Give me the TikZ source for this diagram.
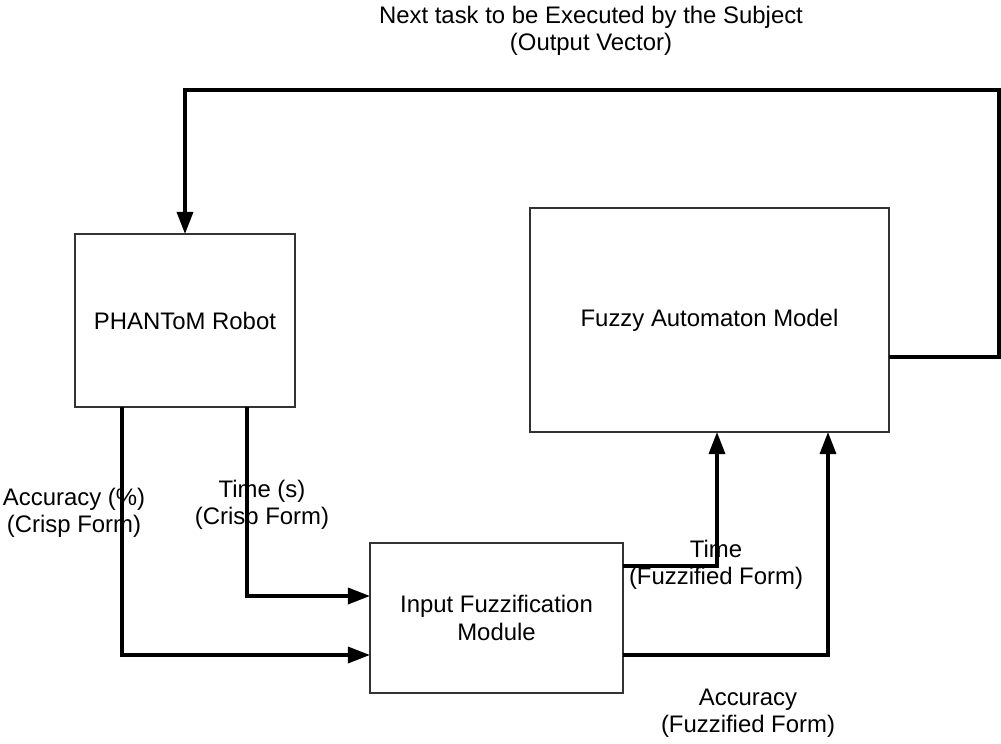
\documentclass[tikz,border=0pt]{standalone}
\usepackage{fontspec}
\setmainfont{Liberation Sans}
\usetikzlibrary{arrows.meta}

\tikzset{
	block/.style={draw=black!80, line width=1.4pt, inner sep=0pt, outer sep=0pt, align=center},
	flow/.style={line width=2.4pt, -{Triangle[length=0.55cm,width=0.4cm]}},
	lbl/.style={align=center, inner sep=0pt},
}

\begin{document}
\begin{tikzpicture}[x=0.025cm, y=-0.025cm, font=\fontsize{17}{19.5}\selectfont]
\useasboundingbox (0,0) rectangle (1001,744);

\node[block, minimum width=5.5cm, minimum height=4.325cm] (robot) at (185,320.5) {PHANToM Robot};
\node[block, minimum width=8.975cm, minimum height=5.6cm] (fam) at (709.5,320) {Fuzzy Automaton Model};
\node[block, minimum width=6.325cm, minimum height=3.75cm] (ifm) at (496.5,618) {Input Fuzzification\\Module};

\node[lbl] (out) at (591,31) {Next task to be Executed by the Subject\\(Output Vector)};
\node[lbl] (acclbl) at (74,513) {Accuracy (\%)\\(Crisp Form)};
\node[lbl] (timlbl) at (262,505) {Time (s)\\(Crisp Form)};
\node[lbl] (ftimlbl) at (716,565) {Time\\(Fuzzified Form)};
\node[lbl] (facclbl) at (748,713) {Accuracy\\(Fuzzified Form)};

\coordinate (acc) at (122,655);
\coordinate (tim) at (247,596);
\coordinate (ftim) at (717,566);
\coordinate (facc) at (828,655);
\coordinate (fbout) at (889,357);
\coordinate (fb) at (999,90);

\foreach \c in {acc,tim}{
	\draw[flow] (robot.south -| \c) |- (ifm.west |- \c);
}

\foreach \c in {ftim,facc}{
	\draw[flow] (ifm.east |- \c) -| (fam.south -| \c);
}

\draw[flow] (fam.east |- fbout) -| (fb) -| (robot.north);
\end{tikzpicture}
\end{document}
